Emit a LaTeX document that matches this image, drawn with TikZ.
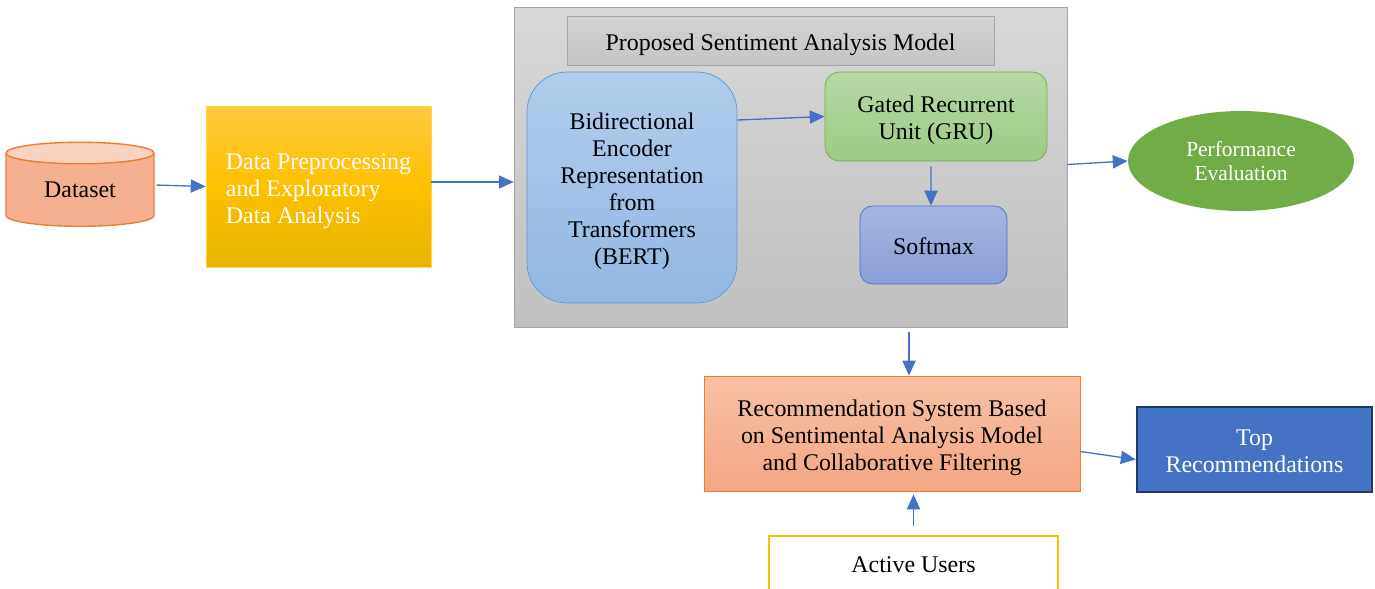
\documentclass[tikz,border=0pt]{standalone}
\usepackage{fontspec}
\setmainfont{Liberation Serif}
\usetikzlibrary{arrows.meta,shapes.geometric}

\definecolor{linkblue}{HTML}{4472C4}
\definecolor{salmonline}{HTML}{ED7D31}
\definecolor{goldline}{HTML}{FFC000}
\definecolor{greyline}{HTML}{A6A6A6}
\definecolor{bertline}{HTML}{5B9BD5}
\definecolor{gruline}{HTML}{70AD47}
\definecolor{navyline}{HTML}{203864}

% word-like line box for the first and last line of each block
\newcommand\linestrut{\rule[-3pt]{0pt}{17pt}}

\tikzset{
  flow/.style={draw=linkblue, line width=0.75pt, -{Triangle[length=8.5pt,width=7.5pt]}},
  block/.style={draw, align=center, inner sep=0pt, font=\fontsize{13.6}{15.4}\selectfont,
    execute at begin node=\linestrut, execute at end node=\linestrut},
}

\begin{document}
\begin{tikzpicture}[x=0.02cm,y=-0.02cm]
\useasboundingbox (0,0) rectangle (1375,588);

% input side
\node[cylinder, shape border rotate=90, aspect=0.3, draw=salmonline, line width=0.8pt,
      cylinder uses custom fill, cylinder body fill={rgb,255:red,245;green,176;blue,143},
      cylinder end fill={rgb,255:red,249;green,211;blue,193},
      minimum width=2.96cm, minimum height=1.68cm, inner sep=0pt,
      font=\fontsize{13.6}{15.4}\selectfont] (dataset) at (80,190) {Dataset};
\node[block, draw=goldline!70, top color={rgb,255:red,255;green,202;blue,64},
      bottom color={rgb,255:red,230;green,180;blue,0}, middle color=goldline,
      text=white, align=left, minimum width=4.5cm, minimum height=3.22cm]
      (prep) at (318.5,186.5) {\linestrut Data Preprocessing\\and Exploratory\\Data Analysis};

% sentiment model
\node[block, draw=greyline, top color={rgb,255:red,216;green,216;blue,216},
      bottom color={rgb,255:red,192;green,192;blue,192},
      minimum width=11.06cm, minimum height=6.4cm] (model) at (790.5,167) {};
\node[block, draw=greyline, top color={rgb,255:red,212;green,212;blue,212},
      bottom color={rgb,255:red,196;green,196;blue,196},
      minimum width=8.54cm, minimum height=0.98cm] (title) at (780.5,40.5)
      {Proposed Sentiment Analysis Model};
\node[block, draw=bertline, rounded corners=0.8cm,
      top color={rgb,255:red,178;green,205;blue,236},
      bottom color={rgb,255:red,145;green,184;blue,226},
      minimum width=4.2cm, minimum height=4.62cm] (bert) at (632,187.5)
      {\linestrut Bidirectional\\Encoder\\Representation\\from\\Transformers\\(BERT)};
\node[block, draw=gruline, rounded corners=0.3cm,
      top color={rgb,255:red,183;green,217;blue,166},
      bottom color={rgb,255:red,157;green,202;blue,131},
      minimum width=4.44cm, minimum height=1.78cm] (gru) at (936,116.5)
      {\linestrut Gated Recurrent\\Unit (GRU)};
\node[block, draw=linkblue, rounded corners=0.25cm,
      top color={rgb,255:red,166;green,180;blue,225},
      bottom color={rgb,255:red,137;green,159;blue,214},
      minimum width=2.94cm, minimum height=1.56cm] (softmax) at (933.5,245) {Softmax};

% outputs
\node[ellipse, fill=gruline, text=white, align=center, inner sep=0pt,
      minimum width=4.52cm, minimum height=2cm,
      font=\fontsize{12.2}{13.8}\selectfont] (perf) at (1241,161)
      {Performance\\Evaluation};
\node[block, draw=salmonline, top color={rgb,255:red,248;green,193;blue,165},
      bottom color={rgb,255:red,244;green,166;blue,131},
      minimum width=7.52cm, minimum height=2.3cm] (rec) at (892,433.5)
      {\linestrut Recommendation System Based\\on Sentimental Analysis Model\\and Collaborative Filtering};
\node[block, draw=navyline, line width=1.4pt, fill=linkblue, text=white,
      minimum width=4.7cm, minimum height=1.7cm] (top) at (1254.5,449.5)
      {\linestrut Top\\Recommendations};
\node[block, draw=goldline, line width=1.2pt, fill=white,
      minimum width=5.78cm, minimum height=1.08cm] (active) at (913.5,563) {Active Users};

% connectors
\coordinate (recin) at ([xshift=0.34cm]rec.north);
\draw[flow, shorten <=0.04cm] ([yshift=0.1cm]dataset.east) -- (prep.west);
\draw[flow] ([yshift=0.09cm]prep.east) -- ([yshift=0.09cm]prep.east -| model.west);
\draw[flow] ([yshift=1.35cm]bert.east) -- (gru.west);
\draw[flow, shorten <=0.1cm] ([xshift=-0.1cm]gru.south) -- ([xshift=-0.05cm]softmax.north);
\draw[flow] ([yshift=0.05cm]model.east) -- (perf.west);
\draw[flow, shorten <=0.1cm] (recin |- model.south) -- (recin);
\draw[flow] ([yshift=-0.36cm]rec.east) -- ([yshift=-0.2cm]top.west);
\draw[flow, shorten <=0.18cm, shorten >=0.06cm] (active.north) -- (active.north |- rec.south);
\end{tikzpicture}
\end{document}
